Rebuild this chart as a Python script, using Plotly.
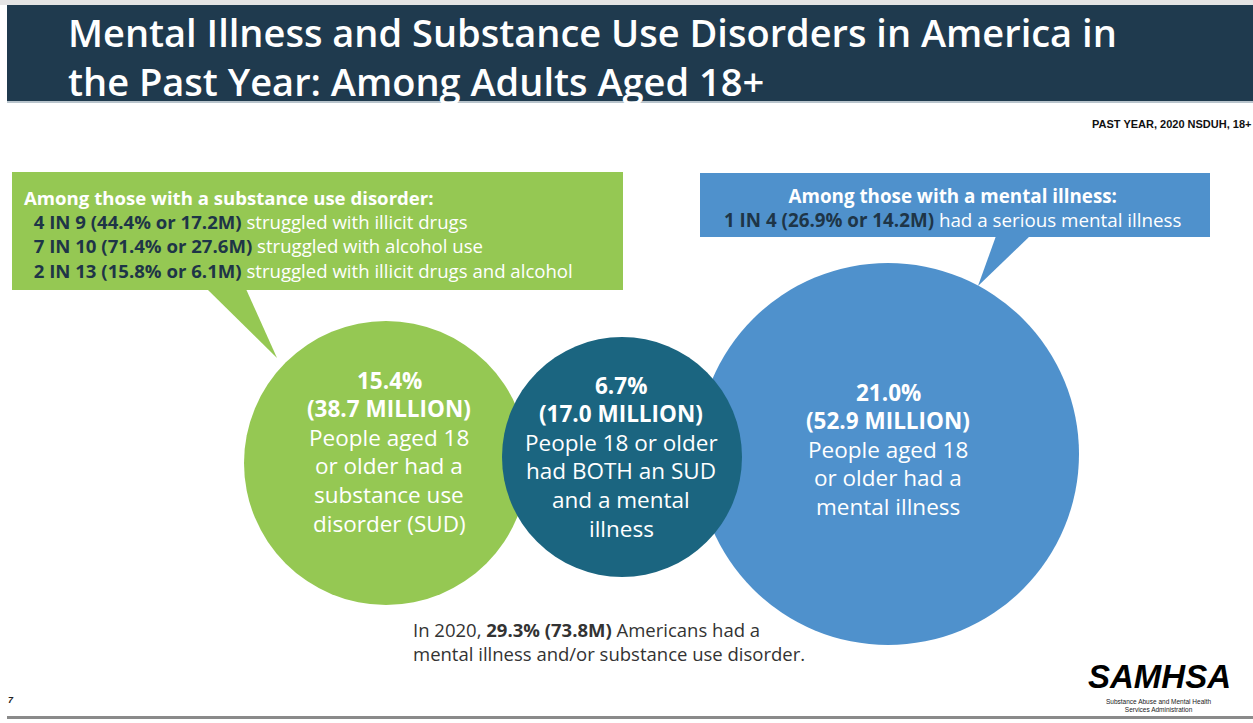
import plotly.graph_objects as go

# ---------------- data ----------------
title_lines = ["Mental Illness and Substance Use Disorders in America in",
               "the Past Year: Among Adults Aged 18+"]
source_label = "PAST YEAR, 2020 NSDUH, 18+"

circle_names = ["SUD", "BOTH", "AMI"]
circle_pct = [15.4, 6.7, 21.0]
circle_millions = [38.7, 17.0, 52.9]
circle_desc = [
    ["People aged 18", "or older had a", "substance use", "disorder (SUD)"],
    ["People 18 or older", "had BOTH an SUD", "and a mental", "illness"],
    ["People aged 18", "or older had a", "mental illness"],
]

sud_heading = "Among those with a substance use disorder:"
sud_ratio = ["4 IN 9", "7 IN 10", "2 IN 13"]
sud_pct = [44.4, 71.4, 15.8]
sud_millions = [17.2, 27.6, 6.1]
sud_desc = ["struggled with illicit drugs", "struggled with alcohol use",
            "struggled with illicit drugs and alcohol"]

ami_heading = "Among those with a mental illness:"
ami_ratio = ["1 IN 4"]
ami_pct = [26.9]
ami_millions = [14.2]
ami_desc = ["had a serious mental illness"]

total_year = 2020
total_pct = 29.3
total_millions = 73.8

# ---------------- layout / style ----------------
W, H = 1253, 723
NAVY = "#1f3a4e"
GREEN = "#95c853"
TEAL = "#1b6580"
BLUE = "#4f91cc"
DARKTXT = "#1e3547"
FONT = "Open Sans"

# circle geometry (pixel space): cx, cy, r
circle_geom = [(386, 463, 142), (622, 457, 120), (888, 454, 191)]
circle_colors = [GREEN, TEAL, BLUE]
draw_order = [0, 2, 1]

shapes = []
shapes.append(dict(type="rect", x0=0, x1=W, y0=0, y1=5, fillcolor="#e4e4e4", line_width=0, layer="below"))
shapes.append(dict(type="rect", x0=7, x1=W, y0=5, y1=101, fillcolor=NAVY, line_width=0))
shapes.append(dict(type="rect", x0=7, x1=W, y0=101, y1=103, fillcolor="#b8c4cc", line_width=0))

# callout boxes
shapes.append(dict(type="rect", x0=12, x1=623, y0=172, y1=290, fillcolor=GREEN, line_width=0))
shapes.append(dict(type="path", path="M 207 289 L 246 289 L 277 358 Z", fillcolor=GREEN, line_width=0))
shapes.append(dict(type="rect", x0=700, x1=1210, y0=173, y1=237, fillcolor=BLUE, line_width=0))
shapes.append(dict(type="path", path="M 996 236 L 1030 236 L 978 286 Z", fillcolor=BLUE, line_width=0))

for i in draw_order:
    cx, cy, r = circle_geom[i]
    shapes.append(dict(type="circle", x0=cx - r, x1=cx + r, y0=cy - r, y1=cy + r,
                       fillcolor=circle_colors[i], line_width=0))

shapes.append(dict(type="rect", x0=7, x1=W, y0=716, y1=719, fillcolor="#8a8a8a", line_width=0))

ann = []

def add(text, x, y, size, color="white", xanchor="left", family=FONT, weight=None, align="left"):
    f = dict(family=family, size=size, color=color)
    if weight is not None:
        f["weight"] = weight
    ann.append(dict(text=text, x=x, y=y, xref="x", yref="y", xanchor=xanchor,
                    yanchor="middle", showarrow=False, font=f, align=align))

# title (one block, two lines)
add("<br>".join(title_lines), 66, 56, 38, weight=600)
add("<b>" + source_label + "</b>", W, 124, 11, color="#111", xanchor="right",
    family="Liberation Sans")

# green callout (one block)
sud_lines = ["<b>" + sud_heading + "</b>"]
for k in range(len(sud_ratio)):
    sud_lines.append(
        f"&nbsp;&nbsp;<b><span style='color:{DARKTXT}'>{sud_ratio[k]} ({sud_pct[k]:.1f}% or "
        f"{sud_millions[k]:.1f}M)</span></b> {sud_desc[k]}")
add("<br>".join(sud_lines), 22, 234, 18.6)

# blue callout (one block)
ami_lines = ["<b>" + ami_heading + "</b>",
             f"<b><span style='color:{DARKTXT}'>{ami_ratio[0]} ({ami_pct[0]:.1f}% or "
             f"{ami_millions[0]:.1f}M)</span></b> {ami_desc[0]}"]
add("<br>".join(ami_lines), 953, 208, 18.8, xanchor="center", align="center")

# circle text
text_tops = [380, 385, 392]
text_cx = [389, 621, 888]
for i in range(3):
    y = text_tops[i]
    add(f"<b>{circle_pct[i]:.1f}%</b>", text_cx[i], y, 22.5, xanchor="center")
    add(f"<b>({circle_millions[i]:.1f} MILLION)</b>", text_cx[i], y + 28, 22.5, xanchor="center")
    for j, line in enumerate(circle_desc[i]):
        add(line, text_cx[i], y + 57 + 28.7 * j, 22.5, xanchor="center")

# total note (one block)
add(f"In {total_year}, <b>{total_pct:.1f}% ({total_millions:.1f}M)</b> Americans had a<br>"
    "mental illness and/or substance use disorder.", 411, 641, 18.5, color="#333333")

# SAMHSA logo text
add("<b><i>SAMHSA</i></b>", 1159, 676, 33, color="black", xanchor="center", family="Liberation Sans")
add("Substance Abuse and Mental Health<br>Services Administration", 1159, 705, 6.5,
    color="#222", xanchor="center", family="Liberation Sans", align="center")
add("<b><i>7</i></b>", 6, 700, 9, color="#222", family="Liberation Sans")

fig = go.Figure()
fig.add_trace(go.Scatter(x=[0, W], y=[0, H], mode="markers", marker=dict(opacity=0),
                         hoverinfo="skip", showlegend=False))
fig.update_layout(
    width=W, height=H, margin=dict(l=0, r=0, t=0, b=0),
    paper_bgcolor="white", plot_bgcolor="white",
    xaxis=dict(range=[0, W], visible=False, fixedrange=True),
    yaxis=dict(range=[H, 0], visible=False, fixedrange=True),
    shapes=shapes, annotations=ann, showlegend=False,
)
fig.write_html("out.html", config={"displayModeBar": False})
